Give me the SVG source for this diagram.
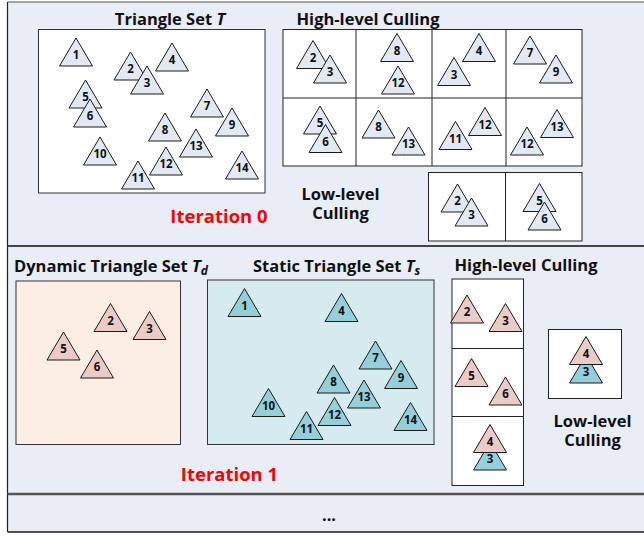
<svg xmlns="http://www.w3.org/2000/svg" xmlns:xlink="http://www.w3.org/1999/xlink" width="644" height="536" viewBox="0 0 644 536">
  <style>
    .title { font-family: "Open Sans", "Noto Sans", "Liberation Sans", sans-serif; font-weight: bold; font-size: 16.5px; fill: #111; }
    .iter { font-family: "Open Sans", "Noto Sans", "Liberation Sans", sans-serif; font-weight: bold; font-size: 18.5px; fill: #FF0000; }
    .num { font-family: "Open Sans", "Noto Sans", "Liberation Sans", sans-serif; font-weight: bold; font-size: 11.5px; fill: #111; text-anchor: middle; }
    .box { stroke: #333; stroke-width: 1; }
    .cell { fill: #FFFFFF; stroke: #222; stroke-width: 1; }
    .grid { stroke: #222; stroke-width: 1; fill: none; }
    .tg { fill: #E3E9F3; stroke: #1A1A1A; stroke-width: 1; }
    .tp { fill: #EBCBC8; stroke: #1A1A1A; stroke-width: 1; }
    .tb { fill: #94CFDA; stroke: #1A1A1A; stroke-width: 1; }
  </style>
  <defs>
    <!-- equilateral-ish triangle, apex at origin -->
    <path id="tri" d="M0,0 L-16.5,28 L16.5,28 Z"/>
  </defs>

  <!-- panel background and frame -->
  <g id="panels">
    <rect x="7.5" y="2" width="640" height="530" fill="#E9EDF5"/>
    <line x1="7.5" y1="2" x2="644" y2="2" stroke="#888" stroke-width="1.5"/>
    <line x1="7.5" y1="2" x2="7.5" y2="532" stroke="#222" stroke-width="1.2"/>
    <line x1="7.5" y1="246" x2="644" y2="246" stroke="#444" stroke-width="2"/>
    <line x1="7.5" y1="494" x2="644" y2="494" stroke="#555" stroke-width="2.5"/>
    <line x1="7.5" y1="532" x2="644" y2="532" stroke="#1A1A1A" stroke-width="1.6"/>
  </g>

  <!-- ===== Iteration 0 ===== -->
  <g id="setT">
    <text class="title" x="170" y="25" text-anchor="middle">Triangle Set <tspan font-style="italic">T</tspan></text>
    <rect class="box" x="38.5" y="29.5" width="226.5" height="163.5" fill="#FFFFFF"/>
    <g id="t0-1"><use xlink:href="#tri" class="tg" x="76" y="38"/><text class="num" x="76" y="59">1</text></g>
    <g id="t0-2"><use xlink:href="#tri" class="tg" x="130.5" y="52"/><text class="num" x="130.5" y="73">2</text></g>
    <g id="t0-3"><use xlink:href="#tri" class="tg" x="147" y="66"/><text class="num" x="147" y="87">3</text></g>
    <g id="t0-4"><use xlink:href="#tri" class="tg" x="172" y="43"/><text class="num" x="172" y="64">4</text></g>
    <g id="t0-5"><use xlink:href="#tri" class="tg" x="85.5" y="80"/><text class="num" x="85.5" y="101">5</text></g>
    <g id="t0-6"><use xlink:href="#tri" class="tg" x="90" y="99"/><text class="num" x="90" y="120">6</text></g>
    <g id="t0-7"><use xlink:href="#tri" class="tg" x="207" y="89"/><text class="num" x="207" y="110">7</text></g>
    <g id="t0-8"><use xlink:href="#tri" class="tg" x="165" y="113"/><text class="num" x="165" y="134">8</text></g>
    <g id="t0-9"><use xlink:href="#tri" class="tg" x="232" y="108"/><text class="num" x="232" y="129">9</text></g>
    <g id="t0-10"><use xlink:href="#tri" class="tg" x="100" y="137"/><text class="num" x="100" y="158">10</text></g>
    <g id="t0-11"><use xlink:href="#tri" class="tg" x="138" y="161"/><text class="num" x="138" y="182">11</text></g>
    <g id="t0-12"><use xlink:href="#tri" class="tg" x="166" y="147"/><text class="num" x="166" y="168">12</text></g>
    <g id="t0-13"><use xlink:href="#tri" class="tg" x="196" y="129"/><text class="num" x="196" y="150">13</text></g>
    <g id="t0-14"><use xlink:href="#tri" class="tg" x="242" y="151"/><text class="num" x="242" y="172">14</text></g>
  </g>

  <g id="high0">
    <text class="title" x="368" y="25" text-anchor="middle">High-level Culling</text>
    <rect class="cell" x="283" y="29.5" width="299" height="136.5"/>
    <path class="grid" d="M356,29.5 V166 M432,29.5 V166 M506,29.5 V166 M283,98 H582"/>
    <g id="h0-a"><use xlink:href="#tri" class="tg" x="313" y="40.5"/><text class="num" x="313" y="61.5">2</text>
      <use xlink:href="#tri" class="tg" x="330" y="55"/><text class="num" x="330" y="76">3</text></g>
    <g id="h0-b"><use xlink:href="#tri" class="tg" x="397" y="33.5"/><text class="num" x="397" y="54.5">8</text>
      <use xlink:href="#tri" class="tg" x="398" y="66"/><text class="num" x="398" y="87">12</text></g>
    <g id="h0-c"><use xlink:href="#tri" class="tg" x="479" y="33.5"/><text class="num" x="479" y="54.5">4</text>
      <use xlink:href="#tri" class="tg" x="454" y="57.5"/><text class="num" x="454" y="78.5">3</text></g>
    <g id="h0-d"><use xlink:href="#tri" class="tg" x="530" y="36"/><text class="num" x="530" y="57">7</text>
      <use xlink:href="#tri" class="tg" x="556" y="55"/><text class="num" x="556" y="76">9</text></g>
    <g id="h0-e"><use xlink:href="#tri" class="tg" x="320" y="106"/><text class="num" x="320" y="127">5</text>
      <use xlink:href="#tri" class="tg" x="325.5" y="124.5"/><text class="num" x="325.5" y="145.5">6</text></g>
    <g id="h0-f"><use xlink:href="#tri" class="tg" x="378.5" y="110"/><text class="num" x="378.5" y="131">8</text>
      <use xlink:href="#tri" class="tg" x="408.5" y="127"/><text class="num" x="408.5" y="148">13</text></g>
    <g id="h0-g"><use xlink:href="#tri" class="tg" x="455.5" y="121.5"/><text class="num" x="455.5" y="142.5">11</text>
      <use xlink:href="#tri" class="tg" x="485" y="107.5"/><text class="num" x="485" y="128.5">12</text></g>
    <g id="h0-h"><use xlink:href="#tri" class="tg" x="557" y="109.5"/><text class="num" x="557" y="130.5">13</text>
      <use xlink:href="#tri" class="tg" x="527" y="127"/><text class="num" x="527" y="148">12</text></g>
  </g>

  <g id="low0">
    <text class="title" text-anchor="middle"><tspan x="340.5" y="199.5">Low-level</tspan><tspan x="340.5" y="219">Culling</tspan></text>
    <rect class="cell" x="428.5" y="172.5" width="153.5" height="68.5"/>
    <path class="grid" d="M505.5,172.5 V241"/>
    <g id="l0-a"><use xlink:href="#tri" class="tg" x="457.5" y="184"/><text class="num" x="457.5" y="205">2</text>
      <use xlink:href="#tri" class="tg" x="471.5" y="198"/><text class="num" x="471.5" y="219">3</text></g>
    <g id="l0-b"><use xlink:href="#tri" class="tg" x="539.5" y="183.5"/><text class="num" x="539.5" y="204.5">5</text>
      <use xlink:href="#tri" class="tg" x="544.5" y="202"/><text class="num" x="544.5" y="223">6</text></g>
  </g>

  <text class="iter" x="219" y="223" text-anchor="middle">Iteration 0</text>

  <!-- ===== Iteration 1 ===== -->
  <g id="setTd">
    <text class="title" x="14" y="271.5">Dynamic Triangle Set <tspan font-style="italic">T</tspan><tspan font-style="italic" font-size="12" dy="3">d</tspan></text>
    <rect class="box" x="16" y="281" width="164.5" height="163.5" fill="#FCEEE4"/>
    <g id="td-2"><use xlink:href="#tri" class="tp" x="110.5" y="303.5"/><text class="num" x="110.5" y="324.5">2</text></g>
    <g id="td-3"><use xlink:href="#tri" class="tp" x="149.5" y="311.5"/><text class="num" x="149.5" y="332.5">3</text></g>
    <g id="td-5"><use xlink:href="#tri" class="tp" x="63.5" y="332"/><text class="num" x="63.5" y="353">5</text></g>
    <g id="td-6"><use xlink:href="#tri" class="tp" x="97" y="350"/><text class="num" x="97" y="371">6</text></g>
  </g>

  <g id="setTs">
    <text class="title" x="253" y="271.5">Static Triangle Set <tspan font-style="italic">T</tspan><tspan font-style="italic" font-size="12" dy="3">s</tspan></text>
    <rect class="box" x="207.5" y="280" width="226.5" height="164.5" fill="#D5EBF0"/>
    <g id="ts-1"><use xlink:href="#tri" class="tb" x="244.5" y="288.5"/><text class="num" x="244.5" y="309.5">1</text></g>
    <g id="ts-4"><use xlink:href="#tri" class="tb" x="341.5" y="293.5"/><text class="num" x="341.5" y="314.5">4</text></g>
    <g id="ts-7"><use xlink:href="#tri" class="tb" x="375.5" y="341"/><text class="num" x="375.5" y="362">7</text></g>
    <g id="ts-9"><use xlink:href="#tri" class="tb" x="401" y="360.5"/><text class="num" x="401" y="381.5">9</text></g>
    <g id="ts-8"><use xlink:href="#tri" class="tb" x="333.5" y="365"/><text class="num" x="333.5" y="386">8</text></g>
    <g id="ts-13"><use xlink:href="#tri" class="tb" x="364" y="380"/><text class="num" x="364" y="401">13</text></g>
    <g id="ts-10"><use xlink:href="#tri" class="tb" x="268.5" y="388.5"/><text class="num" x="268.5" y="409.5">10</text></g>
    <g id="ts-12"><use xlink:href="#tri" class="tb" x="334.5" y="397.5"/><text class="num" x="334.5" y="418.5">12</text></g>
    <g id="ts-11"><use xlink:href="#tri" class="tb" x="306.5" y="411.5"/><text class="num" x="306.5" y="432.5">11</text></g>
    <g id="ts-14"><use xlink:href="#tri" class="tb" x="410.5" y="402.5"/><text class="num" x="410.5" y="423.5">14</text></g>
  </g>

  <g id="high1">
    <text class="title" x="454.5" y="271">High-level Culling</text>
    <rect class="cell" x="452" y="279" width="71.5" height="206.5"/>
    <path class="grid" d="M452,348.5 H523.5 M452,416.5 H523.5"/>
    <g id="h1-a"><use xlink:href="#tri" class="tp" x="467" y="295"/><text class="num" x="467" y="316">2</text>
      <use xlink:href="#tri" class="tp" x="505.5" y="303.5"/><text class="num" x="505.5" y="324.5">3</text></g>
    <g id="h1-b"><use xlink:href="#tri" class="tp" x="471.5" y="358.5"/><text class="num" x="471.5" y="379.5">5</text>
      <use xlink:href="#tri" class="tp" x="505.5" y="377"/><text class="num" x="505.5" y="398">6</text></g>
    <g id="h1-c"><use xlink:href="#tri" class="tb" x="490" y="442"/><text class="num" x="490" y="463">3</text>
      <use xlink:href="#tri" class="tp" x="490" y="424.5"/><text class="num" x="490" y="445.5">4</text></g>
  </g>

  <g id="low1">
    <rect class="cell" x="548.5" y="329.5" width="73" height="69"/>
    <g id="l1-a"><use xlink:href="#tri" class="tb" x="586" y="355"/><text class="num" x="586" y="376">3</text>
      <use xlink:href="#tri" class="tp" x="586" y="336.5"/><text class="num" x="586" y="357.5">4</text></g>
    <text class="title" text-anchor="middle"><tspan x="592.5" y="426.5">Low-level</tspan><tspan x="592.5" y="446">Culling</tspan></text>
  </g>

  <text class="iter" x="229.5" y="480.5" text-anchor="middle">Iteration 1</text>

  <!-- following iterations -->
  <text class="title" x="329" y="521" text-anchor="middle">...</text>
</svg>
